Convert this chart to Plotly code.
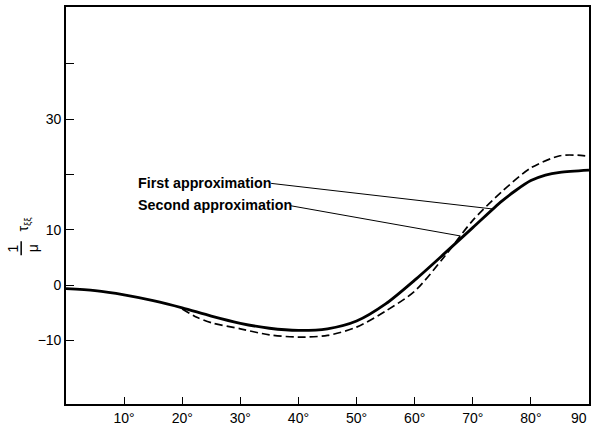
import numpy as np
import plotly.graph_objects as go

# ---- data ----
angles_first = [0, 5, 10, 15, 20, 25, 30, 35, 40, 45, 50, 55, 60, 65, 70, 75, 77.5, 80, 82.5, 85, 90]
first_approx = [-0.65, -1.0, -1.75, -2.8, -4.1, -5.6, -6.9, -7.8, -8.2, -7.9, -6.5, -3.4, 0.9, 5.6, 10.4, 15.2, 17.2, 18.9, 19.9, 20.4, 20.8]

angles_second = [20, 22.5, 25, 30, 35, 40, 45, 50, 55, 60, 65, 70, 75, 80, 85, 88, 90]
second_approx = [-4.3, -5.8, -6.8, -7.9, -9.0, -9.4, -9.1, -7.6, -4.7, -1.1, 5.0, 11.7, 16.9, 21.2, 23.4, 23.5, 23.3]

x_tickvals = [10, 20, 30, 40, 50, 60, 70, 80]
x_ticktext = ["10°", "20°", "30°", "40°", "50°", "60°", "70°", "80°"]
y_tickvals = [-10, 0, 10, 30]
y_ticktext = ["−10", "0", "10", "30"]
y_unlabelled_ticks = [20, 40]

labels = ["First approximation", "Second approximation"]
label_x = [12.1, 12.1]
label_y = [18.5, 14.45]
label_end_x = [35.3, 38.7]          # where the leader line leaves the label
pointer_x = [73.5, 67.9]            # angle at which the leader touches its curve

X_RANGE = [0, 90]
Y_RANGE = [-21.5, 50.3]

W, H = 593, 428
ML, MR, MT, MB = 66, 2, 7, 21
PW, PH = W - ML - MR, H - MT - MB


def px_to_paper(px, py):
    return (px - ML) / PW, (H - MB - py) / PH


FONT = "Liberation Sans"

fig = go.Figure()
fig.add_trace(go.Scatter(x=angles_first, y=first_approx, mode="lines",
                         line=dict(color="black", width=2.8, shape="spline", smoothing=0.8),
                         name=labels[0], showlegend=False))
fig.add_trace(go.Scatter(x=angles_second, y=second_approx, mode="lines",
                         line=dict(color="black", width=1.7, dash="8px,4px", shape="spline", smoothing=0.8),
                         name=labels[1], showlegend=False))

# labels and leader lines
series = [(angles_first, first_approx), (angles_second, second_approx)]
for i, lab in enumerate(labels):
    fig.add_annotation(x=label_x[i], y=label_y[i], xref="x", yref="y", text=lab,
                       showarrow=False, xanchor="left", yanchor="middle",
                       font=dict(family=FONT, size=14.3, color="black", weight="bold"))
    sx, sy = series[i]
    ty = float(np.interp(pointer_x[i], sx, sy))
    fig.add_shape(type="line", xref="x", yref="y",
                  x0=label_end_x[i], y0=label_y[i] - 0.1, x1=pointer_x[i], y1=ty,
                  line=dict(color="black", width=1))

# right-hand "90" label
fig.add_annotation(x=90, y=0, xref="x", yref="paper", text="90", showarrow=False,
                   xanchor="right", yanchor="top", yshift=-4,
                   font=dict(family=FONT, size=14, color="black"))

# y-axis title: 1/μ τ_ξξ (rotated)
for txt, (px, py) in [("1", (13, 250)), ("μ", (33, 250)), ("τ<sub>ξξ</sub>", (24, 226))]:
    ax_, ay_ = px_to_paper(px, py)
    fig.add_annotation(x=ax_, y=ay_, xref="paper", yref="paper", text=txt, showarrow=False,
                       textangle=-90, xanchor="center", yanchor="middle",
                       font=dict(family=FONT, size=14, color="black"))
bx, by0 = px_to_paper(21, 243)
_, by1 = px_to_paper(21, 257)
fig.add_shape(type="line", xref="paper", yref="paper", x0=bx, x1=bx, y0=by0, y1=by1,
              line=dict(color="black", width=1.5))

axis_common = dict(showgrid=False, zeroline=False, showline=True, linecolor="black",
                   linewidth=1.6, mirror=True, ticks="inside", tickcolor="black",
                   tickwidth=1.4, tickfont=dict(family=FONT, size=14, color="black"))

fig.update_layout(
    width=W, height=H,
    margin=dict(l=ML, r=MR, t=MT, b=MB),
    paper_bgcolor="white", plot_bgcolor="white",
    xaxis=dict(range=X_RANGE, tickvals=x_tickvals, ticktext=x_ticktext, ticklen=7, **axis_common),
    yaxis=dict(range=Y_RANGE, tickvals=y_tickvals, ticktext=y_ticktext, ticklen=8,
               minor=dict(tickmode="array", tickvals=y_unlabelled_ticks, ticks="inside",
                          ticklen=8, tickwidth=1.4, tickcolor="black", showgrid=False),
               **axis_common),
)

fig.write_html("out.html")
